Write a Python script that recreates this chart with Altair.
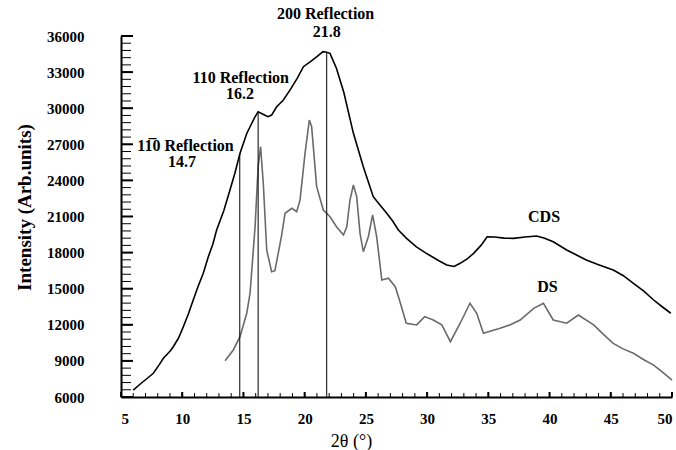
import altair as alt
import pandas as pd

# ---------------- data ----------------
cds_x = [6.0, 6.6, 7.2, 7.64, 8.1, 8.46, 9.0, 9.27, 9.7, 10.09, 10.5, 10.9, 11.3, 11.72,
         12.13, 12.5, 12.81, 13.4, 13.9, 14.3, 14.72, 15.27, 15.54, 15.9, 16.2, 16.6,
         17.0, 17.3, 17.7, 18.26, 18.8, 19.4, 19.9, 20.5, 21.0, 21.5, 21.8, 22.07, 22.6,
         23.2, 23.98, 24.79, 25.6, 26.2, 26.7, 27.2, 27.65, 28.3, 29.1, 30.0, 31.0,
         31.6, 32.2, 32.7, 33.3, 33.8, 34.4, 34.9, 35.5, 36.3, 37.05, 38.0, 38.95,
         39.6, 40.3, 41.4, 42.2, 43.0, 44.0, 45.2, 46.0, 46.85, 47.7, 48.5, 49.2, 49.9]
cds_y = [6580, 7100, 7600, 7970, 8650, 9220, 9800, 10180, 10900, 11840, 12900, 14060,
         15200, 16280, 17660, 18700, 19880, 21500, 23200, 24600, 26250, 27900, 28460,
         29200, 29710, 29500, 29300, 29430, 30100, 30680, 31500, 32500, 33450, 33900,
         34280, 34700, 34650, 34560, 33300, 31300, 27910, 25140, 22650, 21900, 21270,
         20600, 19880, 19200, 18490, 17900, 17300, 16970, 16850, 17110, 17500, 17940,
         18600, 19320, 19300, 19200, 19180, 19300, 19380, 19200, 18900, 18220, 17800,
         17390, 17000, 16550, 16100, 15450, 14800, 14060, 13500, 12960]

ds_x = [13.5, 14.17, 14.72, 15.27, 15.54, 15.95, 16.2, 16.4, 16.62, 16.9, 17.3, 17.57,
        18.1, 18.4, 18.95, 19.35, 19.62, 20.03, 20.38, 20.57, 20.98, 21.52, 22.07, 22.6,
        23.17, 23.44, 23.7, 23.98, 24.25, 24.52, 24.79, 25.2, 25.55, 25.88, 26.3, 26.84,
        27.4, 27.74, 28.3, 29.15, 29.8, 30.5, 31.2, 31.9, 32.7, 33.5, 34.05, 34.6,
        35.96, 36.8, 37.6, 38.7, 39.5, 40.3, 41.4, 42.35, 43.6, 44.4, 45.2, 46.0,
        46.85, 47.7, 48.5, 49.3, 50.0]
ds_y = [9020, 9910, 11010, 12960, 14620, 20150, 25140, 26800, 23760, 18220, 16410,
        16500, 19320, 21270, 21680, 21400, 22370, 26250, 29020, 28460, 23480, 21540,
        20980, 20150, 19460, 20150, 22370, 23620, 22650, 19600, 18080, 19320, 21130,
        19320, 15730, 15870, 15170, 14060, 12130, 11990, 12680, 12400, 11990, 10600,
        12130, 13790, 12960, 11290, 11710, 12000, 12400, 13370, 13790, 12400, 12130,
        12810, 11990, 11200, 10460, 10000, 9630, 9100, 8650, 8000, 7410]

peak_x = [14.7, 16.2, 21.8]
peak_top = [26250, 29710, 34650]

ann_text = ["200 Reflection", "21.8", "110 Reflection", "16.2",
            "11\u03050 Reflection", "14.7", "CDS", "DS"]
ann_x = [21.71, 21.8, 14.78, 14.72, 10.27, 9.98, 39.55, 39.83]
ann_y = [37830, 36330, 32550, 31150, 26900, 25500, 20920, 15100]

x_major = list(range(5, 51, 5))
x_minor = list(range(5, 51, 1))
y_major = list(range(6000, 36001, 3000))
y_minor = list(range(6000, 36001, 600))

# ---------------- chart ----------------
FONT = "Liberation Serif"
W, H = 551, 361

lines_df = pd.concat([
    pd.DataFrame({"x": cds_x, "y": cds_y, "s": "CDS"}),
    pd.DataFrame({"x": ds_x, "y": ds_y, "s": "DS"}),
])

xs = alt.Scale(domain=[5, 50], nice=False, zero=False)
ys = alt.Scale(domain=[6000, 36000], nice=False, zero=False)

x_axis = alt.Axis(values=x_major, format="d", ticks=False, grid=False,
                  labelFont=FONT, labelFontWeight="bold", labelFontSize=15,
                  labelColor="black", labelPadding=14,
                  domainColor="black", domainWidth=2,
                  title="2θ (°)", titleFont=FONT, titleFontWeight="normal",
                  titleFontSize=18, titleColor="black",
                  titleX=230, titleY=44, titleBaseline="middle", titleAlign="center")
y_axis = alt.Axis(values=y_major, format="d", ticks=False, grid=False,
                  labelFont=FONT, labelFontWeight="bold", labelFontSize=15,
                  labelColor="black", labelPadding=37,
                  domainColor="black", domainWidth=2,
                  title="Intensity (Arb.units)", titleFont=FONT, titleFontWeight="bold",
                  titleFontSize=19, titleColor="black", titleAngle=-90,
                  titleX=-97, titleY=171, titleBaseline="middle", titleAlign="center")


def X(field):
    return alt.X(field, scale=xs, axis=x_axis)


def Y(field):
    return alt.Y(field, scale=ys, axis=y_axis)


lines = alt.Chart(lines_df).mark_line(strokeWidth=1.6).encode(
    x=X("x:Q"),
    y=Y("y:Q"),
    color=alt.Color("s:N", scale=alt.Scale(domain=["CDS", "DS"], range=["#000000", "#6a6a6a"]),
                    legend=None),
)

peaks_df = pd.DataFrame({"x": peak_x, "top": peak_top, "base": [6000] * len(peak_x)})
peaks = alt.Chart(peaks_df).mark_rule(color="black", strokeWidth=1).encode(
    x=X("x:Q"),
    y=Y("base:Q"),
    y2="top:Q",
)

ymin = alt.Chart(pd.DataFrame({"v": y_minor})).mark_rule(color="black", strokeWidth=1).encode(
    y=Y("v:Q"), x=alt.value(0), x2=alt.value(10))
ymaj = alt.Chart(pd.DataFrame({"v": y_major})).mark_rule(color="black", strokeWidth=2).encode(
    y=Y("v:Q"), x=alt.value(0), x2=alt.value(12))
xmin = alt.Chart(pd.DataFrame({"v": x_minor})).mark_rule(color="black", strokeWidth=1).encode(
    x=X("v:Q"), y=alt.value(H), y2=alt.value(H - 4))
xmaj = alt.Chart(pd.DataFrame({"v": x_major})).mark_rule(color="black", strokeWidth=2).encode(
    x=X("v:Q"), y=alt.value(H), y2=alt.value(H - 5))

ann_df = pd.DataFrame({"t": ann_text, "x": ann_x, "y": ann_y})
ann = alt.Chart(ann_df).mark_text(font=FONT, fontWeight="bold", fontSize=16,
                                  color="black", baseline="middle", align="center").encode(
    x=X("x:Q"),
    y=Y("y:Q"),
    text="t:N",
)

chart = alt.layer(lines, peaks, ymin, ymaj, xmin, xmaj, ann).properties(
    width=W, height=H,
    autosize=alt.AutoSizeParams(type="none"),
    padding={"left": 121, "top": 36, "right": 4, "bottom": 53},
    background="white",
).configure_view(stroke=None)

chart.save("out.html", embed_options={"renderer": "svg", "actions": False})
